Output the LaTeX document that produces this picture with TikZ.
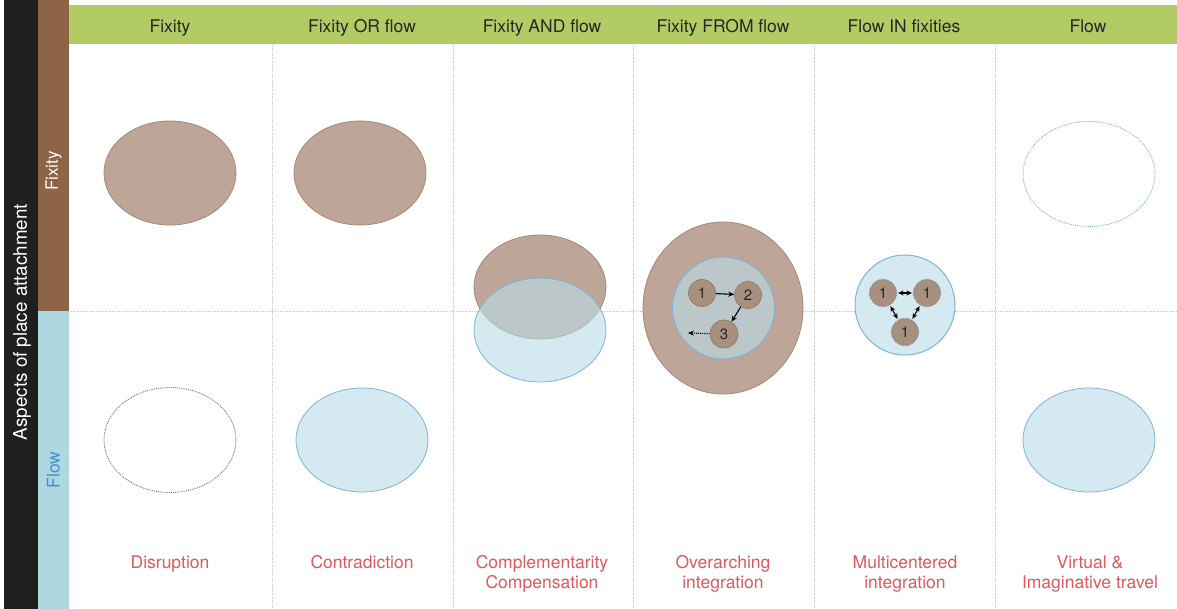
\documentclass[tikz,border=0pt]{standalone}
\usepackage{fontspec}
\setmainfont{TeX Gyre Heros}
\usetikzlibrary{arrows.meta,shapes.geometric}
\definecolor{barbrown}{HTML}{8E6446}
\definecolor{barblue}{HTML}{ADD8E0}
\definecolor{hdrgreen}{HTML}{B3CB64}
\definecolor{elbrown}{HTML}{BDA597}
\definecolor{elbrownd}{HTML}{A48873}
\definecolor{elblue}{HTML}{D5EAF0}
\definecolor{elbluet}{HTML}{BBDDE7}
\definecolor{elblued}{HTML}{80B2D8}
\definecolor{smallc}{HTML}{A8907E}
\definecolor{smallcd}{HTML}{8C7361}
\definecolor{lblred}{HTML}{E0585C}
\definecolor{flowblue}{HTML}{3F8FD2}
\definecolor{gridgray}{HTML}{C8C8C8}
\tikzset{
  hdr/.style={font=\fontsize{17.5}{20}\selectfont, text=black!85, anchor=base},
  bot/.style={font=\fontsize{17.5}{20}\selectfont, text=lblred, align=center, anchor=base},
  grid/.style={draw=gridgray, densely dotted, line width=0.8pt},
  brownel/.style={ellipse, draw=elbrownd, fill=elbrown, line width=0.8pt, minimum width=132pt, minimum height=104pt, inner sep=0pt},
  blueel/.style={ellipse, draw=elblued, fill=elblue, line width=0.8pt, minimum width=132pt, minimum height=104pt, inner sep=0pt},
  smallnode/.style={circle, draw=smallcd, fill=smallc, line width=0.6pt, minimum size=27pt, inner sep=0pt, font=\fontsize{15}{16}\selectfont, text=black!85},
  fuzzynode/.style={circle, draw=black!45, fill=smallc, densely dotted, line width=1.2pt, minimum size=27pt, inner sep=0pt, font=\fontsize{15}{16}\selectfont, text=black!85},
  arr/.style={-{Stealth[length=6pt,width=5pt]}, line width=1.1pt, black},
  darr/.style={{Stealth[length=5.5pt,width=5pt]}-{Stealth[length=5.5pt,width=5pt]}, line width=1.1pt, black, shorten <=1pt, shorten >=1pt}
}
\begin{document}
\begin{tikzpicture}[x=1pt,y=-1pt]
\useasboundingbox (0,0) rectangle (1177,609);
\fill[white] (0,0) rectangle (1177,609);
% side bars
\fill[black!88] (4,0) rectangle (38,609);
\fill[barbrown] (38,0) rectangle (69,311);
\fill[barblue] (38,311) rectangle (69,609);
\fill[hdrgreen] (69,5) rectangle (1177,44);
% grid
\foreach \x in {272,453,633,814,995} {
  \draw[grid] (\x,44) -- (\x,609);
}
\draw[grid] (69,311) -- (1177,311);
% side labels
\node[rotate=90, text=white, font=\fontsize{18.8}{22}\selectfont] (aspects) at (22,322) {Aspects of place attachment};
\node[rotate=90, text=white, font=\fontsize{17}{18}\selectfont] (sfix) at (53.5,171) {Fixity};
\node[rotate=90, text=flowblue, font=\fontsize{17.4}{18}\selectfont] (sflow) at (53.5,470) {Flow};
% headers
\node[hdr] (h1) at (170,32.5) {Fixity};
\node[hdr] (h2) at (362,32.5) {Fixity OR flow};
\node[hdr] (h3) at (542,32.5) {Fixity AND flow};
\node[hdr] (h4) at (723,32.5) {Fixity FROM flow};
\node[hdr] (h5) at (904,32.5) {Flow IN fixities};
\node[hdr] (h6) at (1088,32.5) {Flow};
% column 1
\node[brownel] (c1top) at (170,173) {};
\node[ellipse, draw=black!55, densely dotted, line width=0.9pt, minimum width=132pt, minimum height=105pt, inner sep=0pt] (c1bot) at (170,440) {};
% column 2
\node[brownel] (c2top) at (360,173) {};
\node[blueel] (c2bot) at (362,440) {};
% column 3
\node[brownel] (c3top) at (540,287) {};
\node[blueel, fill=elbluet, fill opacity=0.62] (c3bot) at (540,330) {};
% column 4
\node[ellipse, draw=elbrownd, fill=elbrown, line width=0.8pt, minimum width=160pt, minimum height=172pt, inner sep=0pt] (c4out) at (723,308) {};
\node[circle, draw=elblued, fill=elbluet, fill opacity=0.62, line width=1pt, minimum size=102pt, inner sep=0pt] (c4in) at (723.5,308) {};
\node[smallnode] (n1) at (702,293) {1};
\node[smallnode] (n2) at (748,295) {2};
\node[smallnode, minimum size=28pt] (n3) at (724,334) {3};
\coordinate (n3end) at (688,333);
\draw[arr] (n1) -- (n2);
\draw[arr] (n2) -- (n3);
\draw[arr, densely dotted] (n3) -- (n3end);
% column 5
\node[circle, draw=elblued, fill=elblue, line width=1pt, minimum size=100pt, inner sep=0pt] (c5) at (905,305) {};
\node[fuzzynode] (m1) at (883,293) {1};
\node[fuzzynode] (m2) at (927,293) {1};
\node[fuzzynode] (m3) at (905,332) {1};
\draw[darr] (m1) -- (m2);
\draw[darr] (m1) -- (m3);
\draw[darr] (m2) -- (m3);
% column 6
\node[ellipse, draw=elblued, densely dotted, line width=0.9pt, minimum width=132pt, minimum height=105pt, inner sep=0pt] (c6top) at (1089,174) {};
\node[blueel] (c6bot) at (1089,440) {};
% bottom labels
\node[bot] (b1) at (170,568) {Disruption};
\node[bot] (b2) at (362,568) {Contradiction};
\node[bot] (b3) at (542,588) {Complementarity\\Compensation};
\node[bot] (b4) at (723,588) {Overarching\\integration};
\node[bot] (b5) at (905,588) {Multicentered\\integration};
\node[bot] (b6) at (1090,588) {Virtual \&\\Imaginative travel};
\end{tikzpicture}
\end{document}
